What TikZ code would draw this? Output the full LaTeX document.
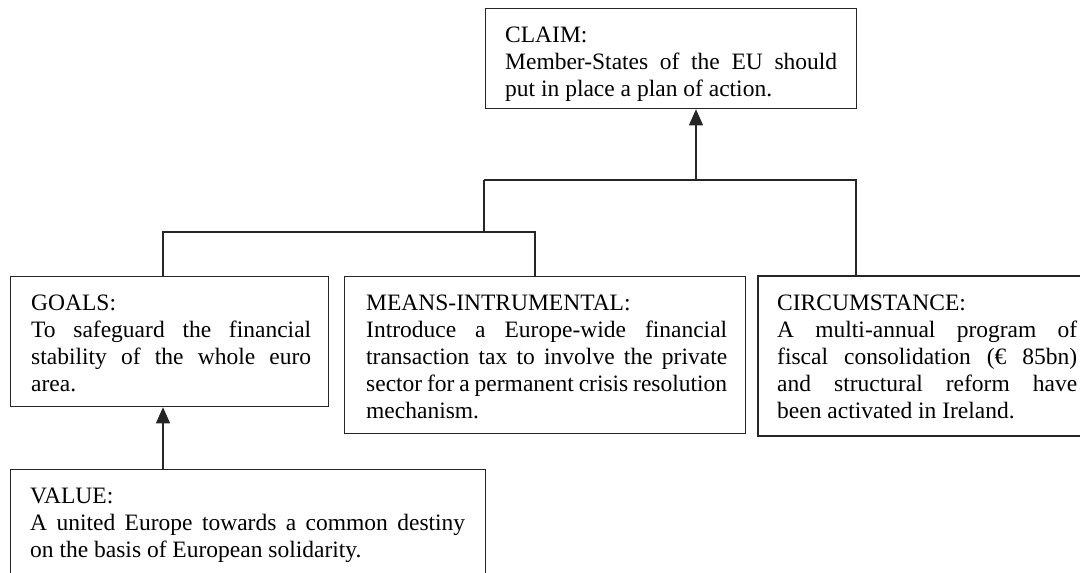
\documentclass[tikz,border=0pt]{standalone}
\usepackage{fontspec}
\setmainfont{Liberation Serif}
\usetikzlibrary{arrows.meta,calc}

\tikzset{
  frame/.style={draw=black!85, line width=1.3pt, anchor=north west, inner sep=0pt},
  thickframe/.style={frame, line width=1.8pt},
  boxtext/.style={anchor=north west, inner sep=0pt, align=justify,
    font=\fontsize{23.5pt}{27pt}\selectfont},
  link/.style={draw=black!85, line width=1.2pt},
  uparrow/.style={link, -{Triangle[length=16pt,width=14pt]}}
}

\begin{document}
\begin{tikzpicture}[x=1pt, y=-1pt]
  \useasboundingbox (0,0) rectangle (1080,573);
  \fill[white] (0,0) rectangle (1080,573);
  \clip (0,0) rectangle (1080,573);
  \tolerance=10000 \hbadness=10000

  % boxes
  \node[frame, minimum width=371pt, minimum height=100pt] (claim) at (485,8) {};
  \node[frame, minimum width=318pt, minimum height=130pt] (goals) at (10,276) {};
  \node[frame, minimum width=401pt, minimum height=157pt] (means) at (344,276) {};
  \node[thickframe, minimum width=340pt, minimum height=160pt] (circ) at (757,275) {};
  \node[frame, minimum width=475pt, minimum height=140pt] (value) at (10,469) {};

  % texts
  \node[boxtext, text width=332pt] (claimtxt) at ($(claim.north west)+(20,15)$)
    {\strut CLAIM:\\ Member-States of the EU should\linebreak put in place a plan of action.};
  \node[boxtext, text width=280pt] (goalstxt) at ($(goals.north west)+(21,15)$)
    {\strut GOALS:\\ To safeguard the financial\linebreak stability of the whole euro\linebreak area.};
  \node[boxtext, text width=361pt] (meanstxt) at ($(means.north west)+(22,15)$)
    {\strut MEANS-INTRUMENTAL:\\ Introduce a Europe-wide financial\linebreak transaction tax to involve the private\linebreak sector for a permanent crisis resolution\linebreak mechanism.};
  \node[boxtext, text width=300pt] (circtxt) at ($(circ.north west)+(20,16)$)
    {\strut CIRCUMSTANCE:\\ A multi-annual program of\linebreak fiscal consolidation (€ 85bn)\linebreak and structural reform have\linebreak been activated in Ireland.};
  \node[boxtext, text width=435pt] (valuetxt) at ($(value.north west)+(20,15)$)
    {\strut VALUE:\\ A united Europe towards a common destiny\linebreak on the basis of European solidarity.};

  % junction points of the connector tree
  \coordinate (ubl) at (484,180);
  \coordinate (ubm) at (696,180);
  \coordinate (ubr) at (856,180);
  \coordinate (lbl) at (163,232);
  \coordinate (lbm) at (484,232);
  \coordinate (lbr) at (535,232);

  % connectors
  \draw[uparrow] (ubm) -- (ubm |- claim.south);
  \draw[link] (ubl) -- (ubr) -- (ubr |- circ.north);
  \draw[link] (ubl) -- (lbm);
  \draw[link] (lbl |- goals.north) -- (lbl) -- (lbr) -- (lbr |- means.north);
  \draw[uparrow] (lbl |- value.north) -- (lbl |- goals.south);
\end{tikzpicture}
\end{document}
